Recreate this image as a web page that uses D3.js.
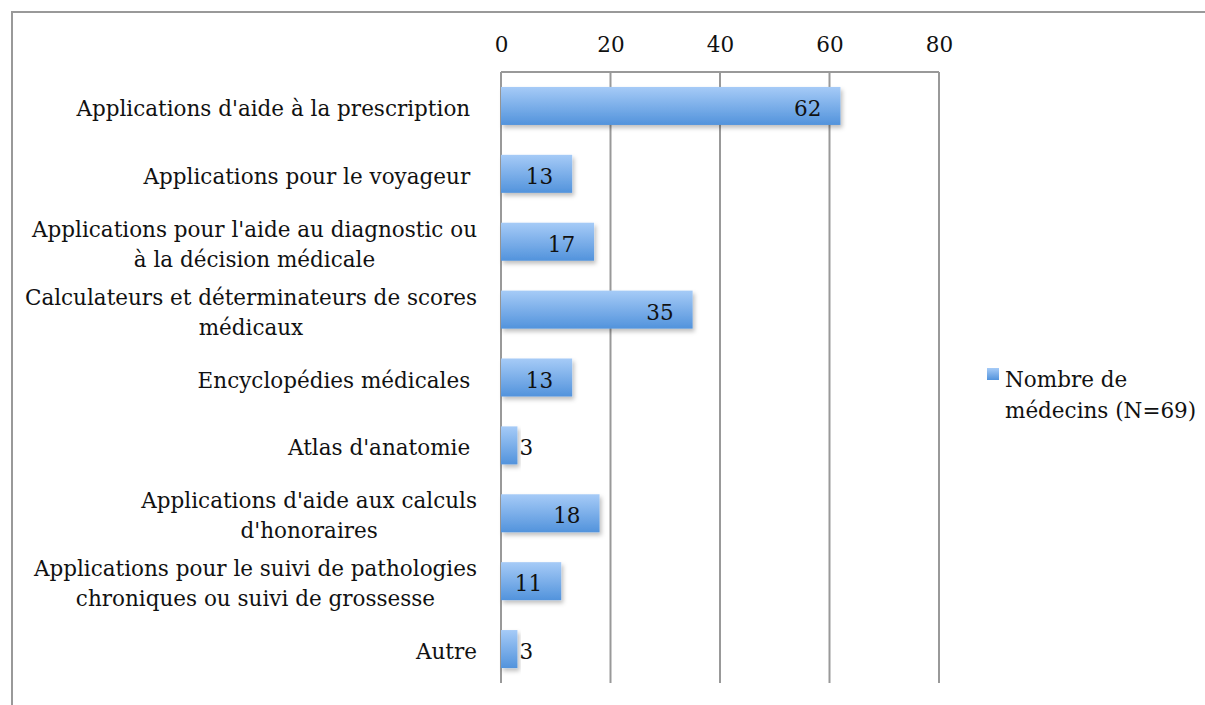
<!DOCTYPE html>
<html>
<head>
<meta charset="utf-8">
<script src="https://cdn.jsdelivr.net/npm/d3@7"></script>
<style>
  body { margin: 0; background: #fff; }
  svg text { font-family: "DejaVu Serif", serif; fill: #111; }
</style>
</head>
<body>
<div id="container"></div>
<script>
// categories, top to bottom (multi-line labels split on "|")
var categories = [
    "Applications d'aide à la prescription ",
    "Applications pour le voyageur ",
    "Applications pour l'aide au diagnostic ou|à la décision médicale",
    "Calculateurs et déterminateurs de scores|médicaux",
    "Encyclopédies médicales ",
    "Atlas d'anatomie ",
    "Applications d'aide aux calculs|d'honoraires",
    "Applications pour le suivi de pathologies|chroniques ou suivi de grossesse",
    "Autre"
];
var values = [62, 13, 17, 35, 13, 3, 18, 11, 3];
var ticks = [0, 20, 40, 60, 80];
var seriesName = ["Nombre de", "médecins (N=69)"];

var width = 1205,
    height = 705,
    fontSize = "21.5px";

var svg = d3.select("#container").append("svg")
    .attr("width", width)
    .attr("height", height);

var defs = svg.append("defs");
var grad = defs.append("linearGradient")
    .attr("id", "barGrad")
    .attr("x1", 0).attr("y1", 0).attr("x2", 0).attr("y2", 1);
grad.append("stop").attr("offset", "0%").attr("stop-color", "#a6cbf7");
grad.append("stop").attr("offset", "100%").attr("stop-color", "#5293dc");

var shadow = defs.append("filter").attr("id", "shadow")
    .attr("x", "-10%").attr("y", "-20%").attr("width", "130%").attr("height", "160%");
shadow.append("feDropShadow")
    .attr("dx", 2).attr("dy", 3).attr("stdDeviation", 2)
    .attr("flood-color", "#000").attr("flood-opacity", 0.25);

// outer frame
svg.append("rect")
    .attr("x", 12).attr("y", 12)
    .attr("width", 1200).attr("height", 720)
    .attr("fill", "none")
    .attr("stroke", "#999")
    .attr("stroke-width", 2);

var x = d3.scaleLinear().domain([0, 80]).range([501, 939]);
var y = d3.scaleBand().domain(d3.range(categories.length)).range([72, 683]).paddingInner(0.44).paddingOuter(0.22);

// gridlines
svg.append("g").selectAll("line")
    .data(ticks)
    .enter().append("line")
    .attr("x1", function (d) { return x(d); })
    .attr("x2", function (d) { return x(d); })
    .attr("y1", 72)
    .attr("y2", 683)
    .attr("stroke", "#999")
    .attr("stroke-width", 2);

// top axis line + labels
svg.append("line")
    .attr("x1", x(0)).attr("x2", x(80))
    .attr("y1", 72).attr("y2", 72)
    .attr("stroke", "#999").attr("stroke-width", 2);

var axis = d3.axisTop(x).tickValues(ticks).tickSize(0).tickPadding(0);
var ag = svg.append("g").attr("transform", "translate(0,52)").call(axis);
ag.select(".domain").remove();
ag.selectAll("text")
    .attr("y", 0)
    .attr("dy", 0)
    .style("font-family", "DejaVu Serif, serif")
    .style("font-size", fontSize)
    .attr("fill", "#111");

// bars
svg.append("g").selectAll("rect")
    .data(values)
    .enter().append("rect")
    .attr("x", x(0))
    .attr("y", function (d, i) { return y(i); })
    .attr("width", function (d) { return x(d) - x(0); })
    .attr("height", y.bandwidth())
    .attr("fill", "url(#barGrad)")
    .attr("filter", "url(#shadow)");

// value labels
svg.append("g").selectAll("text")
    .data(values)
    .enter().append("text")
    .attr("x", function (d) { return d < 5 ? x(d) + 2 : x(d) - 19; })
    .attr("y", function (d, i) { return y(i) + y.bandwidth() / 2 + 10; })
    .attr("text-anchor", function (d) { return d < 5 ? "start" : "end"; })
    .style("font-size", fontSize)
    .text(function (d) { return d; });

// category labels: lines centred on each other, block right edge at 477
var labelRight = 477;
var cl = svg.append("g").selectAll("text")
    .data(categories)
    .enter().append("text")
    .attr("text-anchor", "middle")
    .style("font-size", fontSize)
    .style("white-space", "pre");
cl.each(function (d, i) {
    var lines = d.split("|");
    var t = d3.select(this);
    var spans = lines.map(function (ln, k) {
        return t.append("tspan")
            .attr("y", (k - (lines.length - 1) / 2) * 30)
            .text(ln);
    });
    var maxW = d3.max(spans, function (s) { return s.node().getComputedTextLength(); });
    spans.forEach(function (s) { s.attr("x", 0); });
    t.attr("transform", "translate(" + (labelRight - maxW / 2) + "," + (y(i) + y.bandwidth() / 2 + 10) + ")");
});

// legend
svg.append("rect")
    .attr("x", 987).attr("y", 368)
    .attr("width", 12).attr("height", 12)
    .attr("fill", "url(#barGrad)");
var lg = svg.append("text")
    .attr("x", 1005).attr("y", 387)
    .style("font-size", fontSize);
seriesName.forEach(function (s, k) {
    lg.append("tspan").attr("x", 1005).attr("dy", k === 0 ? 0 : 31).text(s);
});
</script>
</body>
</html>
